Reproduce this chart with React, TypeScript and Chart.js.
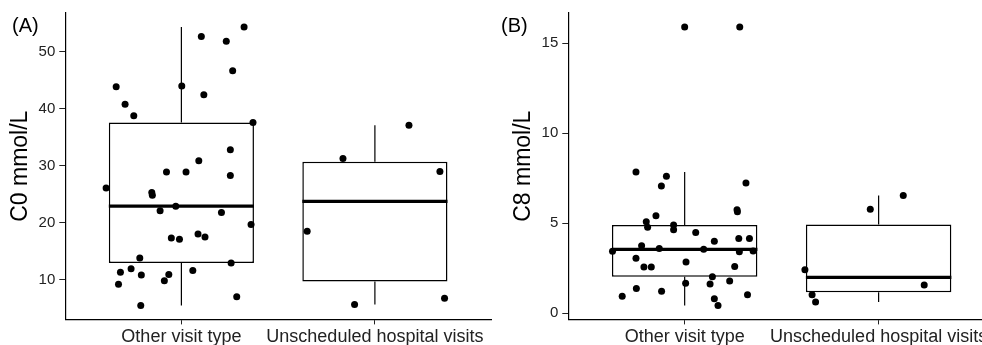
import React, { useEffect, useRef } from "react";
import { Chart, registerables } from "chart.js";

Chart.register(...registerables);

// ---------- data ----------
const categories = ["Other visit type", "Unscheduled hospital visits"];

// Panel A: C0 mmol/L
const c0Other = [
  43.9, 40.8, 38.8, 44.0, 52.7, 42.5, 51.9, 46.7, 54.4, 37.6, 32.8, 30.9, 28.9,
  28.9, 26.1, 25.3, 24.8, 28.3, 22.1, 22.9, 21.8, 19.7, 17.3, 17.1, 18.0, 17.5,
  13.8, 12.9, 11.3, 11.9, 10.8, 10.9, 11.6, 9.2, 9.8, 5.45, 7.0,
];
const c0OtherJitter = [
  -0.337, -0.291, -0.246, 0.002, 0.103, 0.116, 0.232, 0.265, 0.324, 0.37, 0.253,
  0.09, -0.077, 0.024, -0.389, -0.153, -0.15, 0.253, -0.11, -0.029, 0.207, 0.36,
  -0.052, -0.01, 0.086, 0.122, -0.215, 0.257, -0.315, -0.26, -0.207, -0.065,
  0.059, -0.325, -0.088, -0.21, 0.286,
];
const c0Unsched = [37.1, 31.3, 29.0, 18.5, 5.6, 6.7];
const c0UnschedJitter = [0.176, -0.165, 0.336, -0.35, -0.105, 0.36];
const c0Ticks = [10, 20, 30, 40, 50];

// Panel B: C8 mmol/L
const c8Other = [
  7.84, 7.6, 7.06, 7.23, 5.42, 5.08, 4.78, 4.9, 4.63, 5.75, 5.64, 4.48, 4.0,
  4.15, 4.15, 3.74, 3.59, 3.44, 3.55, 3.42, 3.46, 3.05, 2.56, 2.56, 2.84, 2.6,
  2.02, 1.79, 1.62, 1.66, 1.37, 1.22, 0.94, 0.81, 0.43, 1.03, 15.9,
];
const c8OtherJitter = [
  -0.251, -0.094, -0.12, 0.316, -0.148, -0.198, -0.191, -0.057, -0.057, 0.27,
  0.272, 0.057, 0.153, 0.279, 0.334, -0.222, -0.131, -0.372, 0.098, 0.282,
  0.353, -0.251, -0.21, -0.172, 0.007, 0.258, 0.143, 0.232, 0.131, 0.005,
  -0.249, -0.119, -0.322, 0.153, 0.172, 0.324, 0.284,
];
const c8Unsched = [6.54, 5.77, 2.41, 1.57, 1.03, 0.62];
const c8UnschedJitter = [0.127, -0.043, -0.38, 0.235, -0.343, -0.325];
const c8Ticks = [0, 5, 10, 15];

// ---------- helpers ----------
const FONT = '"Liberation Sans", Arial, sans-serif';
const BOX_WIDTH = 0.75;
const CANVAS_H = 349;

function quantile(sorted: number[], p: number) {
  const h = (sorted.length - 1) * p;
  const lo = Math.floor(h);
  const hi = Math.min(lo + 1, sorted.length - 1);
  return sorted[lo] + (h - lo) * (sorted[hi] - sorted[lo]);
}

function boxStats(values: number[]) {
  const s = [...values].sort((a, b) => a - b);
  const q1 = quantile(s, 0.25);
  const med = quantile(s, 0.5);
  const q3 = quantile(s, 0.75);
  const iqr = q3 - q1;
  const lf = q1 - 1.5 * iqr;
  const uf = q3 + 1.5 * iqr;
  const inside = s.filter((v) => v >= lf && v <= uf);
  return {
    q1,
    med,
    q3,
    lo: inside[0],
    hi: inside[inside.length - 1],
    outliers: s.filter((v) => v < lf || v > uf),
  };
}

const tagPlugin = {
  id: "panelTag",
  afterDraw(chart: any, _args: any, opts: any) {
    const ctx = chart.ctx;
    ctx.save();
    ctx.font = `20px ${FONT}`;
    ctx.fillStyle = "#000";
    ctx.textAlign = "left";
    ctx.textBaseline = "alphabetic";
    ctx.fillText(opts.text, opts.x, opts.y);
    ctx.restore();
  },
};

function buildConfig(
  groups: number[][],
  jitters: number[][],
  ticks: number[],
  yTitle: string,
  tag: string,
  tagX: number,
  padLeft: number,
  padRight: number
) {
  const stats = groups.map(boxStats);
  const all = groups.flat();
  const mn = Math.min(...all);
  const mx = Math.max(...all);
  const ex = (mx - mn) * 0.05;

  const points: any[] = [];
  groups.forEach((g, i) =>
    g.forEach((v, j) => points.push({ x: i + 1 + jitters[i][j], y: v }))
  );
  const outliers: any[] = [];
  stats.forEach((s, i) => s.outliers.forEach((v) => outliers.push({ x: i + 1, y: v })));

  const lineDs = (data: any[], width: number, order: number) => ({
    type: "scatter",
    data,
    showLine: true,
    borderColor: "#000",
    borderWidth: width,
    pointRadius: 0,
    fill: false,
    order,
  });

  const datasets: any[] = [
    {
      type: "scatter",
      data: points,
      pointRadius: 3.5,
      pointBackgroundColor: "#000",
      pointBorderWidth: 0,
      order: 0,
    },
    {
      type: "scatter",
      data: outliers,
      pointRadius: 3.5,
      pointBackgroundColor: "#000",
      pointBorderWidth: 0,
      order: 0,
    },
  ];
  stats.forEach((s, i) => {
    const c = i + 1;
    datasets.push(
      lineDs(
        [
          { x: c - BOX_WIDTH / 2, y: s.med },
          { x: c + BOX_WIDTH / 2, y: s.med },
        ],
        3.2,
        1
      )
    );
    datasets.push(lineDs([{ x: c, y: s.q3 }, { x: c, y: s.hi }], 1.2, 3));
    datasets.push(lineDs([{ x: c, y: s.q1 }, { x: c, y: s.lo }], 1.2, 3));
  });
  datasets.push({
    type: "bar",
    data: stats.map((s, i) => ({ x: i + 1, y: [s.q1, s.q3] })),
    backgroundColor: "#fff",
    borderColor: "#000",
    borderWidth: 1.5,
    borderSkipped: false,
    barPercentage: BOX_WIDTH,
    categoryPercentage: 1,
    order: 2,
  });

  return {
    type: "scatter",
    data: { datasets },
    plugins: [tagPlugin],
    options: {
      animation: false,
      responsive: false,
      devicePixelRatio: 1,
      events: [],
      layout: { padding: { left: padLeft, right: padRight, top: 13, bottom: 0 } },
      plugins: {
        legend: { display: false },
        tooltip: { enabled: false },
        panelTag: { text: tag, x: tagX, y: 32 },
      },
      scales: {
        x: {
          type: "linear",
          min: 0.4,
          max: 2.6,
          offset: false,
          bounds: "ticks",
          afterBuildTicks: (s: any) => {
            s.ticks = categories.map((_, i) => ({ value: i + 1 }));
          },
          ticks: {
            callback: (v: any) => categories[Math.round(Number(v)) - 1],
            font: { family: FONT, size: 18 },
            color: "#222",
            padding: 1.5,
            maxRotation: 0,
            autoSkip: false,
          },
          grid: {
            offset: false,
            drawOnChartArea: false,
            drawTicks: true,
            tickLength: 5,
            color: "#222",
            lineWidth: 1,
          },
          border: { display: true, color: "#000", width: 1.2 },
        },
        y: {
          type: "linear",
          min: mn - ex,
          max: mx + ex,
          afterBuildTicks: (s: any) => {
            s.ticks = ticks.map((v) => ({ value: v }));
          },
          ticks: {
            font: { family: FONT, size: 15 },
            color: "#222",
            padding: 4,
          },
          grid: {
            offset: false,
            drawOnChartArea: false,
            drawTicks: true,
            tickLength: 6,
            color: "#222",
            lineWidth: 1,
          },
          border: { display: true, color: "#000", width: 1.2 },
          title: {
            display: true,
            text: yTitle,
            font: { family: FONT, size: 23 },
            color: "#000",
            padding: { top: 4, bottom: 0 },
          },
        },
      },
    },
  };
}

function Panel(props: { cfg: () => any; left: number; width: number }) {
  const ref = useRef<HTMLCanvasElement | null>(null);
  useEffect(() => {
    if (!ref.current) return;
    const chart = new Chart(ref.current, props.cfg());
    return () => chart.destroy();
  }, []);
  return (
    <canvas
      ref={ref}
      width={props.width}
      height={CANVAS_H}
      style={{
        position: "absolute",
        left: props.left,
        top: 0,
        width: props.width,
        height: CANVAS_H,
      }}
    />
  );
}

export default function App() {
  return (
    <div
      style={{
        position: "fixed",
        left: 0,
        top: 0,
        width: 982,
        height: 345,
        overflow: "hidden",
        background: "#fff",
      }}
    >
      <Panel
        left={0}
        width={495}
        cfg={() =>
          buildConfig(
            [c0Other, c0Unsched],
            [c0OtherJitter, c0UnschedJitter],
            c0Ticks,
            "C0 mmol/L",
            "(A)",
            12,
            3,
            3
          )
        }
      />
      <Panel
        left={495}
        width={520}
        cfg={() =>
          buildConfig(
            [c8Other, c8Unsched],
            [c8OtherJitter, c8UnschedJitter],
            c8Ticks,
            "C8 mmol/L",
            "(B)",
            6,
            11,
            20
          )
        }
      />
    </div>
  );
}
